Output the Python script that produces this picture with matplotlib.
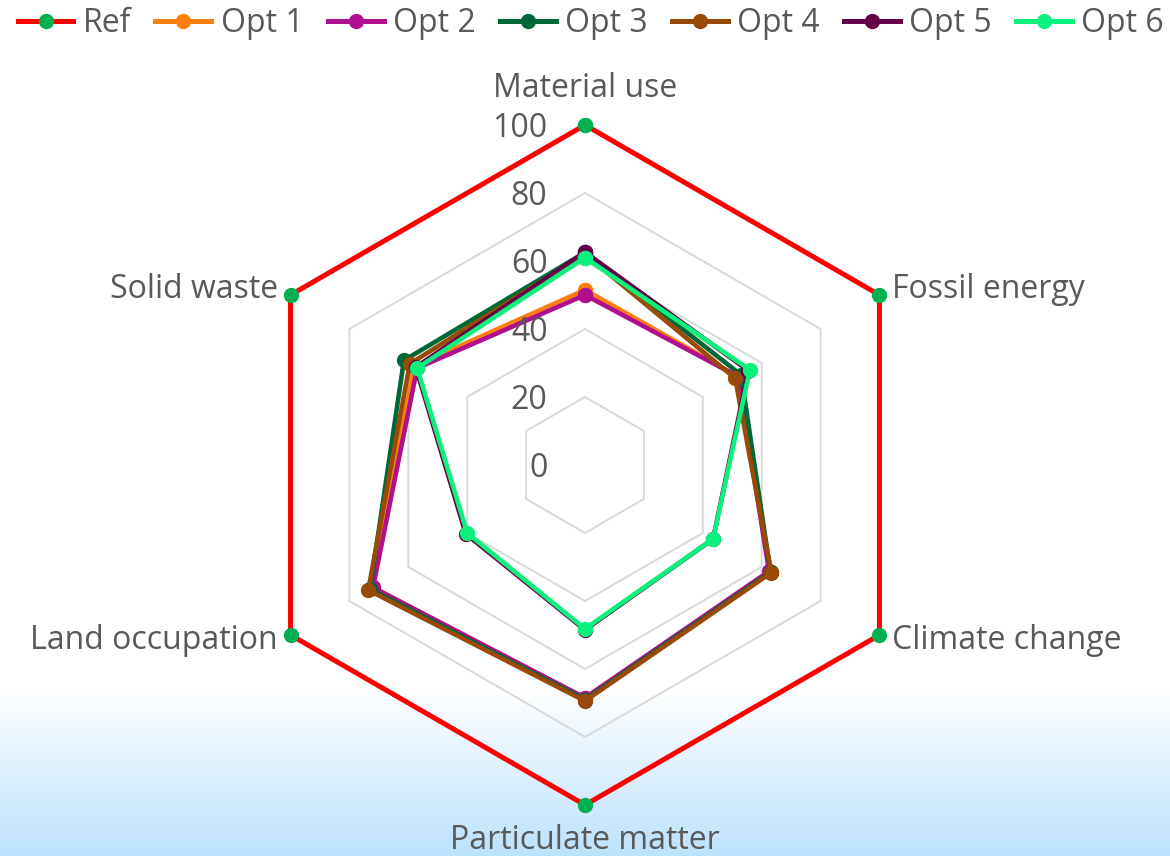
import numpy as np
import matplotlib
matplotlib.use("Agg")
import matplotlib.pyplot as plt
from matplotlib.lines import Line2D
from matplotlib.colors import LinearSegmentedColormap

plt.rcParams['font.family'] = ['Open Sans', 'DejaVu Sans']

categories = ["Material use", "Fossil energy", "Climate change",
              "Particulate matter", "Land occupation", "Solid waste"]
series_names = ["Ref", "Opt 1", "Opt 2", "Opt 3", "Opt 4", "Opt 5", "Opt 6"]
ref   = [100, 100, 100, 100, 100, 100]
opt_1 = [51.5, 52, 63, 68.5, 72.5, 58]
opt_2 = [50, 52, 62.5, 68.5, 72, 57]
opt_3 = [62.5, 53, 63, 69, 73, 61.5]
opt_4 = [62, 51, 63.3, 69.4, 73.6, 59.5]
opt_5 = [62.6, 55.5, 43.5, 48.5, 40.5, 57.5]
opt_6 = [61, 56, 43.5, 48.2, 40, 57]
radial_ticks = [0, 20, 40, 60, 80, 100]

series_values = [ref, opt_1, opt_2, opt_3, opt_4, opt_5, opt_6]
line_colors = ["#ff0000", "#ff7f0e", "#b0108e", "#006837", "#994a06", "#660047", "#0af27c"]
marker_colors = ["#00b050", "#ff7f0e", "#b0108e", "#006837", "#994a06", "#660047", "#0af27c"]
text_color = "#595959"
fs = 23

fig = plt.figure(figsize=(11.7, 8.56), dpi=100)

# soft blue wash along the bottom edge
bg = fig.add_axes([0, 0, 1, 1], zorder=-10)
bg.set_axis_off()
grad = np.linspace(0, 1, 400).reshape(-1, 1)
cmap = LinearSegmentedColormap.from_list("wash", ["#bde2fc", "#ffffff"])
bg.imshow(grad, cmap=cmap, aspect="auto", extent=[0, 1, 0, 0.195],
          origin="lower", vmin=0, vmax=1)
bg.set_xlim(0, 1)
bg.set_ylim(0, 1)

ax = fig.add_axes([0.2094, 0.0596, 0.5812, 0.7944], projection="polar")
ax.patch.set_alpha(0)
ax.set_theta_zero_location("N")
ax.set_theta_direction(-1)
ax.set_ylim(0, 100)
ax.grid(False)
ax.spines["polar"].set_visible(False)
ax.set_xticks([])
ax.set_yticks([])

n = len(categories)
angles = np.arange(n) * 2 * np.pi / n
closed = np.append(angles, angles[0])

# hexagonal grid rings
for r in radial_ticks[1:-1]:
    ax.plot(closed, [r] * (n + 1), color="#d9d9d9", lw=1.4, zorder=1)
for r in radial_ticks:
    ax.annotate(str(r), xy=(0, r), xytext=(-27, -2.5), textcoords="offset points",
                ha="right", va="center", fontsize=fs, color=text_color, zorder=5)

for vals, name, lc, mc in zip(series_values, series_names, line_colors, marker_colors):
    v = list(vals) + [vals[0]]
    lw = 3.6 if name == "Ref" else 3.3
    ax.plot(closed, v, color=lc, lw=lw, marker="o", markersize=10,
            markerfacecolor=mc, markeredgecolor=mc, clip_on=False, zorder=3)

# category labels around the outside
label_specs = [
    (0, (0, 20), "center", "baseline"),
    (1, (9, 4), "left", "center"),
    (2, (9, -4), "left", "center"),
    (3, (0, -32), "center", "baseline"),
    (4, (-9, -4), "right", "center"),
    (5, (-9, 4), "right", "center"),
]
for i, off, ha, va in label_specs:
    ax.annotate(categories[i], xy=(angles[i], 100), xytext=off,
                textcoords="offset points", ha=ha, va=va,
                fontsize=fs, color=text_color, annotation_clip=False)

handles = [Line2D([0], [0], color=lc, lw=3.6, marker="o", markersize=10,
                  markerfacecolor=mc, markeredgecolor=mc)
           for lc, mc in zip(line_colors, marker_colors)]
leg = fig.legend(handles, series_names, loc="upper center", ncol=7,
                 bbox_to_anchor=(0.505, 1.025), frameon=False, fontsize=fs,
                 handlelength=1.75, handletextpad=0.3, columnspacing=0.75)
for t in leg.get_texts():
    t.set_color(text_color)

fig.savefig("out.png", dpi=100)
